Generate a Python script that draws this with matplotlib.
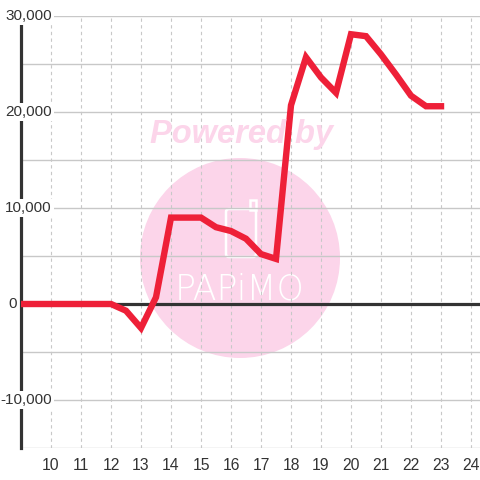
import matplotlib.pyplot as plt
import matplotlib.patches as mpatches

# data: half-hour steps
hours = [9, 9.5, 10, 10.5, 11, 11.5, 12, 12.5, 13, 13.5, 14, 14.5, 15, 15.5,
         16, 16.5, 17, 17.5, 18, 18.5, 19, 19.5, 20, 20.5, 21, 21.5, 22, 22.5, 23]
values = [0, 0, 0, 0, 0, 0, 0, -700, -2500, 700, 9000, 9000, 9000, 8000,
          7600, 6800, 5200, 4700, 20700, 25700, 23600, 22000, 28100, 27900,
          26000, 23900, 21700, 20600, 20600]
x_ticks = list(range(10, 25))
y_labels = [-10000, 0, 10000, 20000, 30000]
y_grid = list(range(-15000, 30001, 5000))

fig = plt.figure(figsize=(4.8, 4.8), dpi=100)
ax = fig.add_axes([21/480, 32/480, 459/480, 432/480])
ax.set_xlim(9, 24.3)
ax.set_ylim(-15000, 30000)
ax.set_axisbelow(True)

for s in ['top', 'right', 'bottom']:
    ax.spines[s].set_visible(False)
ax.spines['left'].set_color('#333333')
ax.spines['left'].set_linewidth(2.3)

# grid
ax.set_yticks(y_grid)
ax.set_xticks(x_ticks)
ax.yaxis.grid(True, color='#c8c8c8', lw=1, ls='-')
ax.xaxis.grid(True, color='#c8c8c8', lw=0.8, ls=(0, (3, 3)))
ax.tick_params(axis='y', length=0, labelleft=False)
ax.tick_params(axis='x', length=0, pad=7, labelsize=11.3, labelcolor='#333333')
ax.set_xticklabels([str(t) for t in x_ticks], fontfamily='Liberation Sans')

# y labels with white boxes, drawn inside the plot
for v in y_labels:
    xpos = (17 - 21) / 459 if v == 0 else (52 - 21) / 459
    ax.text(xpos, v, f'{v:,}', transform=ax.get_yaxis_transform(), ha='right',
            va='center', fontsize=11, color='#333333', family='Liberation Sans',
            bbox=dict(facecolor='white', edgecolor='none', pad=1.2),
            zorder=6, clip_on=False)

# watermark
circle = mpatches.Circle((240/480, 1 - 258/480), 100/480, transform=fig.transFigure,
                         facecolor='#fcd5ea', edgecolor='none', zorder=0.2)
ax.add_patch(circle)
phone = mpatches.FancyBboxPatch((226/480, 1 - 257/480), 30/480, 48/480,
                                boxstyle='round,pad=0,rounding_size=0.006',
                                transform=fig.transFigure, facecolor='none',
                                edgecolor='white', lw=1.8, zorder=0.3)
ax.add_patch(phone)
nub = mpatches.Rectangle((250/480, 1 - 210/480), 6/480, 10/480, transform=fig.transFigure,
                         facecolor='none', edgecolor='white', lw=1.8, zorder=0.3)
ax.add_patch(nub)
fig.text(242/480, 1 - 135/480, 'Powered by', ha='center', va='center', fontsize=23.5,
         fontweight='bold', fontstyle='italic', color='#fcd5ea', family='Liberation Sans',
         zorder=0.3)
ax.text(240/480, 1 - 290/480, 'PAPiMO', transform=fig.transFigure, ha='center',
        va='center', fontsize=25, color='white', family='DejaVu Sans',
        fontweight='light', zorder=0.3)

# zero line and series
ax.axhline(0, color='#333333', lw=2.3, zorder=2)
ax.plot(hours, values, color='#ee2038', lw=4.6, solid_joinstyle='miter', zorder=3)

fig.savefig('out.png', dpi=100, facecolor='white')
